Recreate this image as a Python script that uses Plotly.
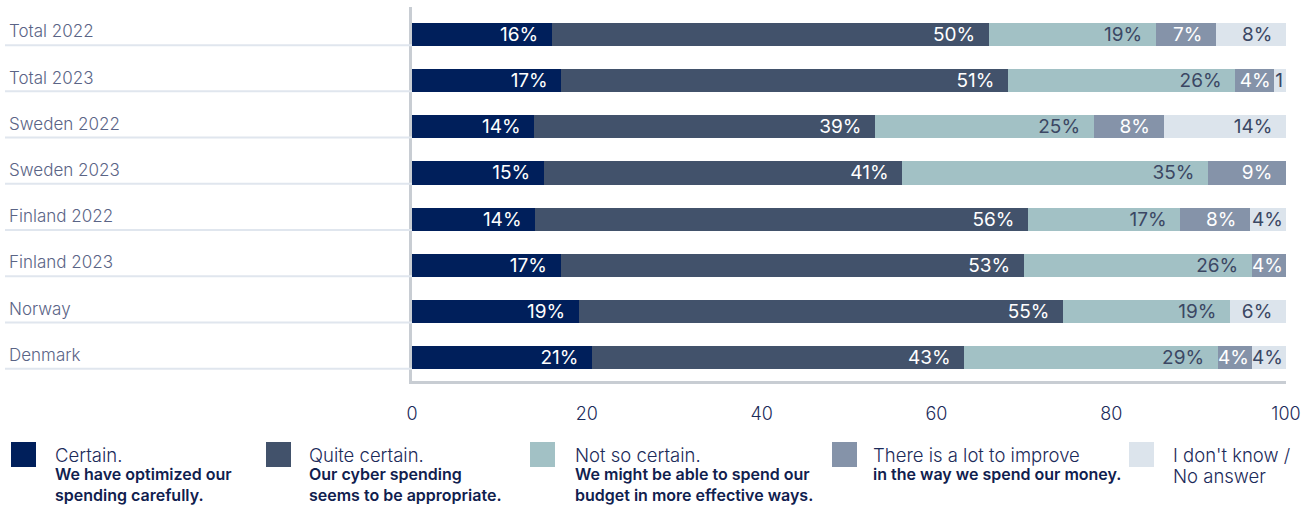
import plotly.graph_objects as go

# Survey responses: how certain are organisations that their cyber spending is efficient (%)
categories = ["Total 2022", "Total 2023", "Sweden 2022", "Sweden 2023",
              "Finland 2022", "Finland 2023", "Norway", "Denmark"]
certain = [16.0, 17.1, 14.0, 15.1, 14.1, 17.0, 19.1, 20.6]
quite_certain = [50.0, 51.1, 39.0, 41.0, 56.4, 53.0, 55.4, 42.6]
not_so_certain = [19.1, 26.0, 25.0, 35.0, 17.4, 26.1, 19.1, 29.0]
lot_to_improve = [6.9, 4.4, 8.0, 8.9, 8.0, 3.9, None, 3.9]
dont_know = [8.0, 1.4, 14.0, None, 4.1, None, 6.4, 3.9]
x_ticks = [0, 20, 40, 60, 80, 100]

legend_titles = ["Certain.", "Quite certain.", "Not so certain.",
                 "There is a lot to improve", "I don't know /"]
legend_notes = [
    ["We have optimized our", "spending carefully."],
    ["Our cyber spending", "seems to be appropriate."],
    ["We might be able to spend our", "budget in more effective ways."],
    ["in the way we spend our money."],
    [],
]
legend_extra_light = [None, None, None, None, "No answer"]

series = [certain, quite_certain, not_so_certain, lot_to_improve, dont_know]
colors = ["#001f5b", "#42526b", "#a2c1c5", "#8593a9", "#dce4ec"]
text_colors = ["#ffffff", "#ffffff", "#3b4763", "#ffffff", "#3b4763"]

W, H = 1301, 509
M_L, M_R, M_T, M_B = 412, 15, 7, 128
PLOT_W = W - M_L - M_R
PLOT_H = H - M_T - M_B

FONT = "Inter"
LIGHT = "#5a6486"
NAVY = "#1c2b5a"
DARK = "#10204e"


def px_x(px):
    return (px - M_L) / PLOT_W


def px_y(py):
    return (H - M_B - py) / PLOT_H


def label_template(v):
    # narrow segments: value only, wide ones get a little breathing room at the end
    if v is None:
        return ""
    if v < 2:
        return "%{x:.0f}"
    if v >= 6:
        return "%{x:.0f}%&nbsp;&nbsp;"
    return "%{x:.0f}%"


fig = go.Figure()
for name, vals, col, tcol in zip(legend_titles, series, colors, text_colors):
    fig.add_trace(go.Bar(
        y=categories, x=vals, orientation="h", name=name,
        marker=dict(color=col, line=dict(width=0)),
        width=0.5,
        texttemplate=[label_template(v) for v in vals],
        textposition="inside", insidetextanchor="end",
        constraintext="none",
        textfont=dict(family=FONT, size=19, color=tcol),
        hoverinfo="skip", showlegend=False,
    ))

shapes = []
annotations = []

# category labels, left aligned, with a thin rule under each row
for i, cat in enumerate(categories):
    annotations.append(dict(
        text=cat, x=px_x(7), xref="paper", xanchor="left",
        y=cat, yref="y", yanchor="middle", yshift=3, showarrow=False,
        font=dict(family=FONT, size=17, color=LIGHT, weight=300),
    ))
    shapes.append(dict(
        type="line", xref="paper", yref="y",
        x0=px_x(5), x1=0, y0=i + 0.235, y1=i + 0.235,
        line=dict(color="#e0e6ee", width=2),
    ))

# legend: swatch, light title, bold note lines
swatch_x = [11, 266, 530, 832, 1129]
text_x = [53, 307, 573, 871, 1171]
for k in range(5):
    shapes.append(dict(
        type="rect", xref="paper", yref="paper",
        x0=px_x(swatch_x[k]), x1=px_x(swatch_x[k] + 25),
        y0=px_y(467), y1=px_y(442),
        fillcolor=colors[k], line=dict(width=0),
    ))
    annotations.append(dict(
        text=legend_titles[k], x=px_x(text_x[k]), xref="paper", xanchor="left",
        y=px_y(455), yref="paper", yanchor="middle", showarrow=False,
        font=dict(family=FONT, size=18.5, color=NAVY, weight=300),
    ))
    for j, note in enumerate(legend_notes[k]):
        annotations.append(dict(
            text=note, x=px_x(text_x[k]), xref="paper", xanchor="left",
            y=px_y(474 + 21 * j), yref="paper", yanchor="middle", showarrow=False,
            font=dict(family=FONT, size=16, color=DARK, weight=600),
        ))
    if legend_extra_light[k]:
        annotations.append(dict(
            text=legend_extra_light[k], x=px_x(text_x[k]), xref="paper", xanchor="left",
            y=px_y(476), yref="paper", yanchor="middle", showarrow=False,
            font=dict(family=FONT, size=18.5, color=NAVY, weight=300),
        ))

fig.update_layout(
    width=W, height=H,
    margin=dict(l=M_L, r=M_R, t=M_T, b=M_B, autoexpand=False),
    barmode="stack",
    paper_bgcolor="white", plot_bgcolor="white",
    shapes=shapes, annotations=annotations,
    xaxis=dict(
        range=[0, 100], tickvals=x_ticks, showgrid=False, zeroline=False,
        automargin=False,
        showline=True, linecolor="#c8cdd3", linewidth=2.5,
        ticks="", ticklabelstandoff=15,
        tickfont=dict(family=FONT, size=18, color=NAVY, weight=300),
    ),
    yaxis=dict(
        categoryorder="array", categoryarray=categories,
        range=[len(categories) - 0.5, -0.59], automargin=False,
        showticklabels=False, showgrid=False, zeroline=False,
        showline=True, linecolor="#c8cdd3", linewidth=2.5,
    ),
)

fig.write_html("out.html")
